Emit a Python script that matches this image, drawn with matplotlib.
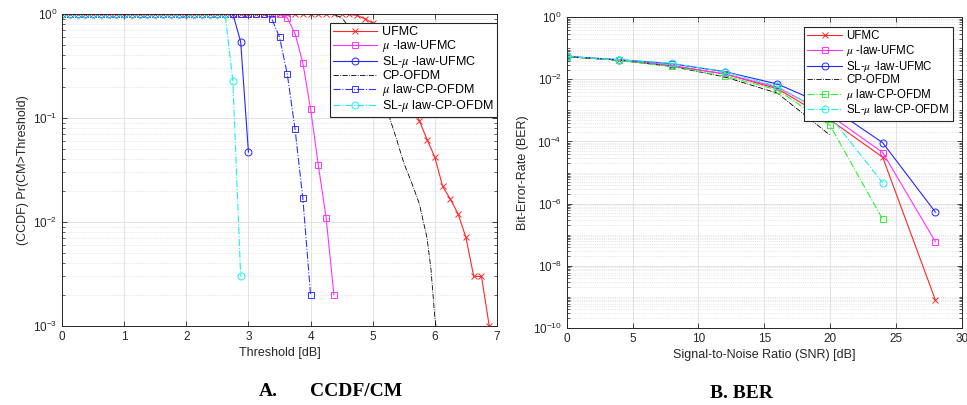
import numpy as np
import matplotlib
matplotlib.use("Agg")
import matplotlib.pyplot as plt
from matplotlib.ticker import FixedLocator, LogLocator, NullFormatter, LogFormatterSciNotation

plt.rcParams['font.family'] = ['Liberation Sans', 'DejaVu Sans']
plt.rcParams['mathtext.fontset'] = 'stix'

# ---------------- Data: CCDF of CM ----------------
ccdf_x = np.arange(0, 7.0, 0.125)  # threshold grid [dB]

ufmc_ccdf = [1.0, 1.0, 1.0, 1.0, 1.0, 1.0, 1.0, 1.0, 1.0, 1.0,
             1.0, 1.0, 1.0, 1.0, 1.0, 1.0, 1.0, 1.0, 1.0, 1.0,
             1.0, 1.0, 1.0, 1.0, 1.0, 1.0, 1.0, 1.0, 1.0, 1.0,
             1.0, 1.0, 1.0, 1.0, 1.0, 1.0, 1.0,
             0.99, 0.97, 0.9, 0.82, 0.68, 0.5, 0.35, 0.23, 0.15,
             0.094, 0.062, 0.042, 0.022, 0.0166, 0.0119, 0.0071,
             0.003, 0.003, 0.001]
mu_ufmc_ccdf = [1.0, 1.0, 1.0, 1.0, 1.0, 1.0, 1.0, 1.0, 1.0, 1.0,
                1.0, 1.0, 1.0, 1.0, 1.0, 1.0, 1.0, 1.0, 1.0, 1.0,
                1.0, 1.0, 1.0, 1.0, 1.0, 1.0, 1.0, 1.0, 1.0,
                0.92, 0.65, 0.34, 0.122, 0.035, 0.011, 0.002]
sl_mu_ufmc_ccdf = [1.0, 1.0, 1.0, 1.0, 1.0, 1.0, 1.0, 1.0, 1.0, 1.0,
                   1.0, 1.0, 1.0, 1.0, 1.0, 1.0, 1.0, 1.0, 1.0, 1.0,
                   1.0, 1.0, 1.0,
                   0.54, 0.047]
mu_cp_ccdf = [1.0, 1.0, 1.0, 1.0, 1.0, 1.0, 1.0, 1.0, 1.0, 1.0,
              1.0, 1.0, 1.0, 1.0, 1.0, 1.0, 1.0, 1.0, 1.0, 1.0,
              1.0, 1.0, 1.0, 1.0, 1.0, 1.0, 1.0,
              0.9, 0.6, 0.265, 0.078, 0.017, 0.002]
sl_mu_cp_ccdf = [1.0, 1.0, 1.0, 1.0, 1.0, 1.0, 1.0, 1.0, 1.0, 1.0,
                 1.0, 1.0, 1.0, 1.0, 1.0, 1.0, 1.0, 1.0, 1.0, 1.0,
                 1.0, 1.0,
                 0.225, 0.003]
cp_x = [0.0, 4.25, 4.375, 4.5, 4.625, 4.75, 4.875, 5.0, 5.125, 5.25, 5.375,
        5.5, 5.625, 5.75, 5.875, 5.9375, 6.0, 6.03]
cp_ccdf = [1.0, 1.0, 0.99, 0.92, 0.75, 0.55, 0.38, 0.25, 0.17, 0.11, 0.065,
           0.037, 0.024, 0.015, 0.007, 0.0035, 0.0012, 0.0009]

# ---------------- Data: BER ----------------
snr = [0, 4, 8, 12, 16, 20, 24, 28]
ufmc_ber = [0.054, 0.042, 0.027, 0.015, 0.005, 5e-4, 3.1e-5, 7.8e-10]
mu_ufmc_ber = [0.054, 0.042, 0.028, 0.015, 0.0056, 7e-4, 4.4e-5, 5.9e-8]
sl_mu_ufmc_ber = [0.055, 0.043, 0.032, 0.0177, 0.0071, 1.3e-3, 9.1e-5, 5.3e-7]
cp_ber = [0.054, 0.041, 0.026, 0.012, 0.0036, 1.6e-4]
mu_cp_ber = [0.054, 0.041, 0.026, 0.0128, 0.0046, 3.3e-4, 3.1e-7]
sl_mu_cp_ber = [0.055, 0.043, 0.033, 0.0175, 0.006, 6.5e-4, 4.7e-6]

labels = ['UFMC', r'$\mu$ -law-UFMC', r'SL-$\mu$ -law-UFMC', 'CP-OFDM',
          r'$\mu$ law-CP-OFDM', r'SL-$\mu$ law-CP-OFDM']

AX = '#262626'
fig = plt.figure(figsize=(9.67, 4.05), dpi=100)
W, H = 967, 405
axL = fig.add_axes([62 / W, (H - 326) / H, (497 - 62) / W, (326 - 14) / H])
axR = fig.add_axes([566.7 / W, (H - 327.7) / H, (961.7 - 566.7) / W, (327.7 - 17.3) / H])

mk = dict(markerfacecolor='none', markersize=5, linewidth=0.8, markeredgewidth=0.7)

# Left panel
axL.semilogy(ccdf_x[:len(ufmc_ccdf)], ufmc_ccdf, '-x', color=(1, 0.15, 0.15), label=labels[0], **mk)
axL.semilogy(ccdf_x[:len(mu_ufmc_ccdf)], mu_ufmc_ccdf, '-s', color=(1, 0.2, 1), label=labels[1], **mk)
axL.semilogy(ccdf_x[:len(sl_mu_ufmc_ccdf)], sl_mu_ufmc_ccdf, '-o', color=(0.15, 0.15, 1), label=labels[2], **mk)
axL.semilogy(cp_x, cp_ccdf, '-.', color='k', linewidth=0.6, label=labels[3])
axL.semilogy(ccdf_x[:len(mu_cp_ccdf)], mu_cp_ccdf, '-.s', color=(0.2, 0.2, 1), label=labels[4], **mk)
axL.semilogy(ccdf_x[:len(sl_mu_cp_ccdf)], sl_mu_cp_ccdf, '-.o', color=(0.1, 0.95, 0.95), label=labels[5], **mk)

axL.set_xlim(0, 7)
axL.set_ylim(1e-3, 1)
axL.xaxis.set_major_locator(FixedLocator(range(0, 8)))
axL.yaxis.set_major_locator(FixedLocator([1e-3, 1e-2, 1e-1, 1]))
axL.yaxis.set_major_formatter(LogFormatterSciNotation())
axL.yaxis.set_minor_locator(LogLocator(base=10, subs=np.arange(2, 10), numticks=50))
axL.yaxis.set_minor_formatter(NullFormatter())
axL.set_xlabel('Threshold [dB]', fontsize=9, color=AX, labelpad=3)
axL.set_ylabel('(CCDF) Pr(CM>Threshold)', fontsize=9, color=AX, labelpad=3)

# Right panel
axR.semilogy(snr[:len(ufmc_ber)], ufmc_ber, '-x', color=(1, 0.15, 0.15), label=labels[0], **mk)
axR.semilogy(snr[:len(mu_ufmc_ber)], mu_ufmc_ber, '-s', color=(1, 0.2, 1), label=labels[1], **mk)
axR.semilogy(snr[:len(sl_mu_ufmc_ber)], sl_mu_ufmc_ber, '-o', color=(0.15, 0.15, 1), label=labels[2], **mk)
axR.semilogy(snr[:len(cp_ber)], cp_ber, '-.', color='k', linewidth=0.6, label=labels[3])
axR.semilogy(snr[:len(mu_cp_ber)], mu_cp_ber, '-.s', color=(0.2, 0.95, 0.2), label=labels[4], **mk)
axR.semilogy(snr[:len(sl_mu_cp_ber)], sl_mu_cp_ber, '-.o', color=(0.1, 0.95, 0.95), label=labels[5], **mk)

axR.set_xlim(0, 30)
axR.set_ylim(1e-10, 1)
axR.xaxis.set_major_locator(FixedLocator(range(0, 31, 5)))
axR.yaxis.set_major_locator(FixedLocator([1e-10, 1e-8, 1e-6, 1e-4, 1e-2, 1]))
axR.yaxis.set_major_formatter(LogFormatterSciNotation())
axR.yaxis.set_minor_locator(LogLocator(base=10, subs=np.arange(1, 10), numticks=100))
axR.yaxis.set_minor_formatter(NullFormatter())
axR.set_xlabel('Signal-to-Noise Ratio (SNR) [dB]', fontsize=9, color=AX, labelpad=3)
axR.set_ylabel('Bit-Error-Rate (BER)', fontsize=9, color=AX, labelpad=3)

for ax in (axL, axR):
    ax.tick_params(axis='both', which='both', direction='in', colors=AX, labelsize=8.5,
                   top=True, right=True)
    ax.tick_params(which='major', length=3.5, width=0.6)
    ax.tick_params(which='minor', length=2, width=0.5)
    for s in ax.spines.values():
        s.set_color(AX)
        s.set_linewidth(0.7)
    ax.grid(True, which='major', color='#dedede', linewidth=0.6, linestyle='-')
    ax.grid(True, which='minor', axis='y', color='#d4d4d4', linewidth=0.5, linestyle=':')
    ax.set_axisbelow(True)

base = dict(fancybox=False, framealpha=1, edgecolor=AX, borderaxespad=0, loc='upper right')
legL = axL.legend(bbox_to_anchor=(1.0, 1 - 9 / 312), fontsize=9, handlelength=3.5,
                  labelspacing=0.0, borderpad=0.25, handletextpad=0.45, **base)
legR = axR.legend(bbox_to_anchor=(1 - 8.7 / 395, 1 - 9.7 / 310.4), fontsize=8.3,
                  handlelength=3.0, labelspacing=0.05, borderpad=0.3, handletextpad=0.4, **base)
for lg in (legL, legR):
    lg.get_frame().set_linewidth(0.8)
    for t in lg.get_texts():
        t.set_color('k')

fig.text(268 / W, 1 - 392 / H, 'A.', fontfamily='Liberation Serif', fontweight='bold',
         fontsize=14, ha='center', va='center')
fig.text(356 / W, 1 - 392 / H, 'CCDF/CM', fontfamily='Liberation Serif', fontweight='bold',
         fontsize=14, ha='center', va='center')
fig.text(741 / W, 1 - 393 / H, 'B. BER', fontfamily='Liberation Serif', fontweight='bold',
         fontsize=14, ha='center', va='center')

fig.savefig('out.png', dpi=100)
